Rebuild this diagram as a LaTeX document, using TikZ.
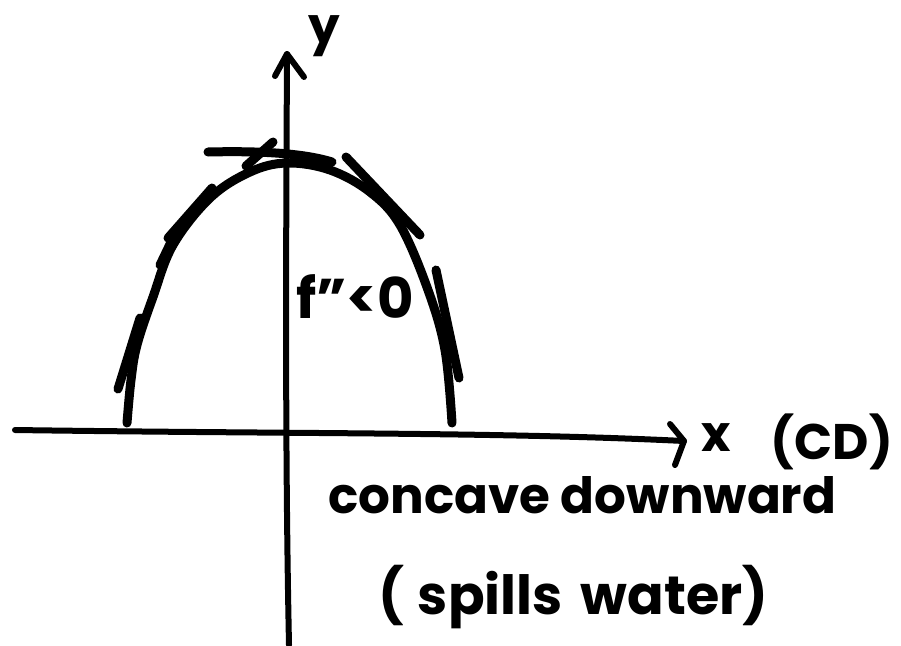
\documentclass[tikz,border=0pt]{standalone}
\usepackage{fontspec}
\setmainfont{Poppins}
\usetikzlibrary{arrows.meta}
\begin{document}
\begin{tikzpicture}[x=1pt,y=-1pt,
  axis/.style={line width=6pt,line cap=round},
  curve/.style={line width=9pt,line cap=round,line join=round},
  tangent/.style={line width=9pt,line cap=round},
  hand/.style={inner sep=0pt,font=\fontsize{50}{56}\selectfont\bfseries}]
\useasboundingbox (0,0) rectangle (901,645);
% x axis
\coordinate (xl) at (15,430);
\coordinate (xr) at (684,441);
\draw[axis] (xl) .. controls (300,434) and (500,432) .. (xr);
\draw[axis,line join=round] (670,424) -- (xr) -- (675,465);
% y axis
\coordinate (yb) at (289,645);
\coordinate (yt) at (287,54);
\draw[axis] (yb) .. controls (285,450) and (286,250) .. (yt);
\draw[axis,line join=round] (275,76) -- (yt) -- (304,77);
% labels
\node[hand] (ylab) at (324,36) {y};
\node[hand] (xlab) at (716,438) {x};
\node[hand] (cd) at (832,442) {(CD)};
\node[hand,anchor=west,font=\fontsize{56}{60}\selectfont\bfseries] (fpp) at (296,297) {f"<0};
\node[hand,anchor=west] (t1) at (328,495) {concave downward};
\node[hand,anchor=west,font=\fontsize{54}{58}\selectfont\bfseries] (t2) at (378,597) {(\hspace{14pt}spills\hspace{18pt}water)};
% curve
\draw[curve] plot[smooth,tension=0.6] coordinates {(127,423) (131,380) (137,345) (153,297) (173,245) (210,198) (250,172) (287,163) (330,170) (370,192) (400,225) (428,290) (445,350) (452,423)};
% tangents
\draw[tangent] (208,152) .. controls (250,151) and (300,152) .. (332,162);
\draw[tangent] (246,166) -- (273,142);
\draw[tangent] (346,157) -- (420,235);
\draw[tangent] (168,238) -- (212,188);
\draw[tangent] (160,265) -- (172,240);
\draw[tangent] (118,389) -- (140,318);
\draw[tangent] (436,270) -- (459,378);
\end{tikzpicture}
\end{document}
